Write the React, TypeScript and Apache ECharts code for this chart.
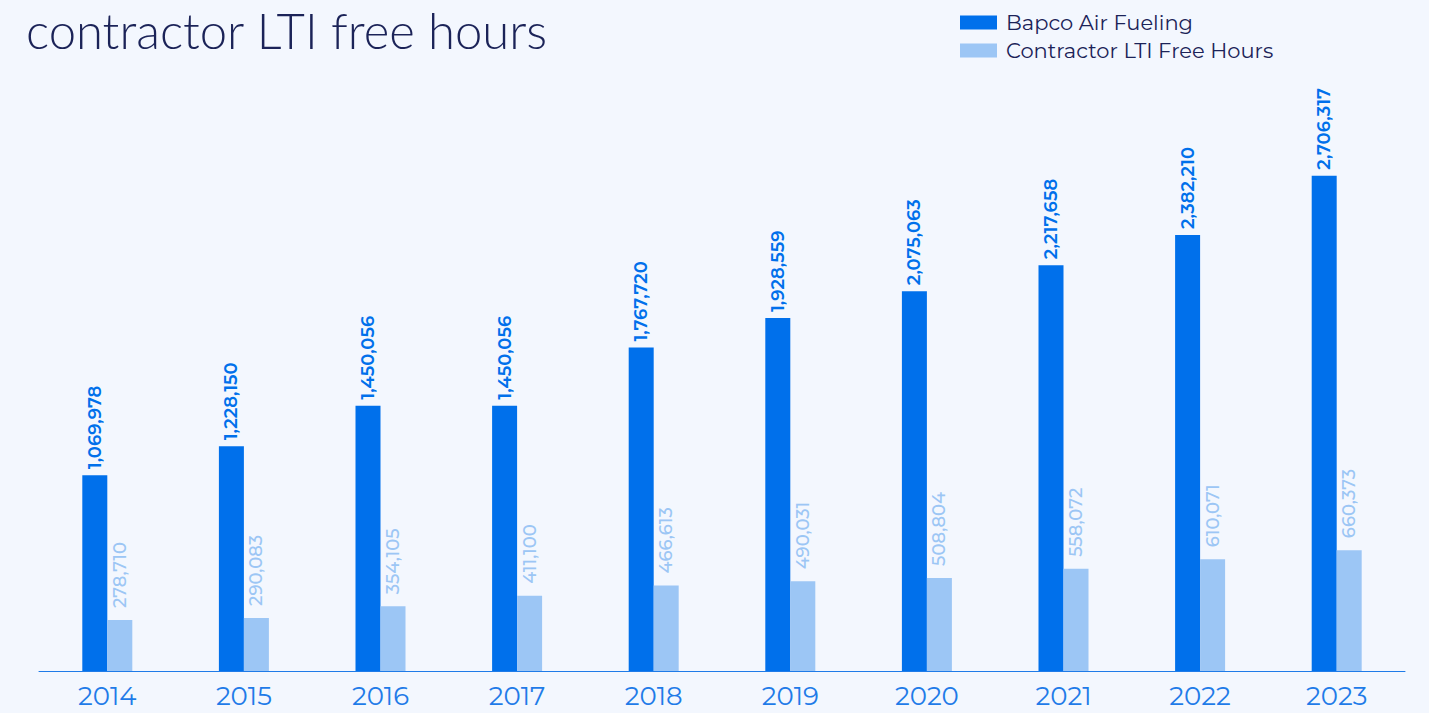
import React, { useEffect, useRef } from "react";
import * as echarts from "echarts";

const years = ["2014", "2015", "2016", "2017", "2018", "2019", "2020", "2021", "2022", "2023"];
const bapcoAirFueling = [1069978, 1228150, 1450056, 1450056, 1767720, 1928559, 2075063, 2217658, 2382210, 2706317];
const contractorLtiFreeHours = [278710, 290083, 354105, 411100, 466613, 490031, 508804, 558072, 610071, 660373];
const titleText = "contractor LTI free hours";
const seriesNames = ["Bapco Air Fueling", "Contractor LTI Free Hours"];

const FONT = "Montserrat, 'Noto Sans', Lato, sans-serif";

export default function App() {
  const ref = useRef<HTMLDivElement>(null);
  useEffect(() => {
    document.body.style.margin = "0";
    const chart = echarts.init(ref.current!, null, { renderer: "svg" });
    const fmt = (p: any) => Number(p.value).toLocaleString("en-US");
    chart.setOption({
      animation: false,
      backgroundColor: "#F3F7FE",
      title: {
        text: titleText,
        left: 26,
        top: 2,
        padding: 0,
        textStyle: {
          fontSize: 49,
          lineHeight: 56,
          fontWeight: 300,
          color: "#1B2358",
          fontFamily: "Lato, 'Noto Sans', sans-serif",
        },
      },
      legend: {
        orient: "vertical",
        left: 960,
        top: 12,
        padding: 0,
        itemWidth: 37,
        itemHeight: 14,
        itemGap: 7,
        icon: "rect",
        textStyle: { fontSize: 21, color: "#1B2358", fontFamily: FONT, padding: [0, 0, 0, 4] },
        data: seriesNames,
      },
      grid: { left: 39, right: 24, top: 122, bottom: 42 },
      xAxis: {
        type: "category",
        data: years,
        axisTick: { show: false },
        axisLine: { lineStyle: { color: "#1F7BE8", width: 1 } },
        axisLabel: { fontSize: 26, color: "#1F7BE8", margin: 12, fontFamily: FONT },
      },
      yAxis: {
        type: "value",
        min: 0,
        max: 3000000,
        show: false,
        splitLine: { show: false },
      },
      series: [
        {
          name: seriesNames[0],
          type: "bar",
          data: bapcoAirFueling,
          barWidth: 25,
          barGap: "0%",
          itemStyle: { color: "#0070EB" },
          label: {
            show: true,
            position: "top",
            rotate: 90,
            align: "left",
            verticalAlign: "middle",
            distance: 6,
            formatter: fmt,
            color: "#0070EB",
            fontSize: 18,
            fontWeight: 600,
            fontFamily: FONT,
          },
        },
        {
          name: seriesNames[1],
          type: "bar",
          data: contractorLtiFreeHours,
          barWidth: 25,
          itemStyle: { color: "#9CC6F5" },
          label: {
            show: true,
            position: "top",
            rotate: 90,
            align: "left",
            verticalAlign: "middle",
            distance: 12,
            formatter: fmt,
            color: "#9CC6F5",
            fontSize: 18,
            fontWeight: 500,
            fontFamily: FONT,
          },
        },
      ],
    });
    return () => chart.dispose();
  }, []);
  return <div ref={ref} style={{ width: 1429, height: 713 }} />;
}
